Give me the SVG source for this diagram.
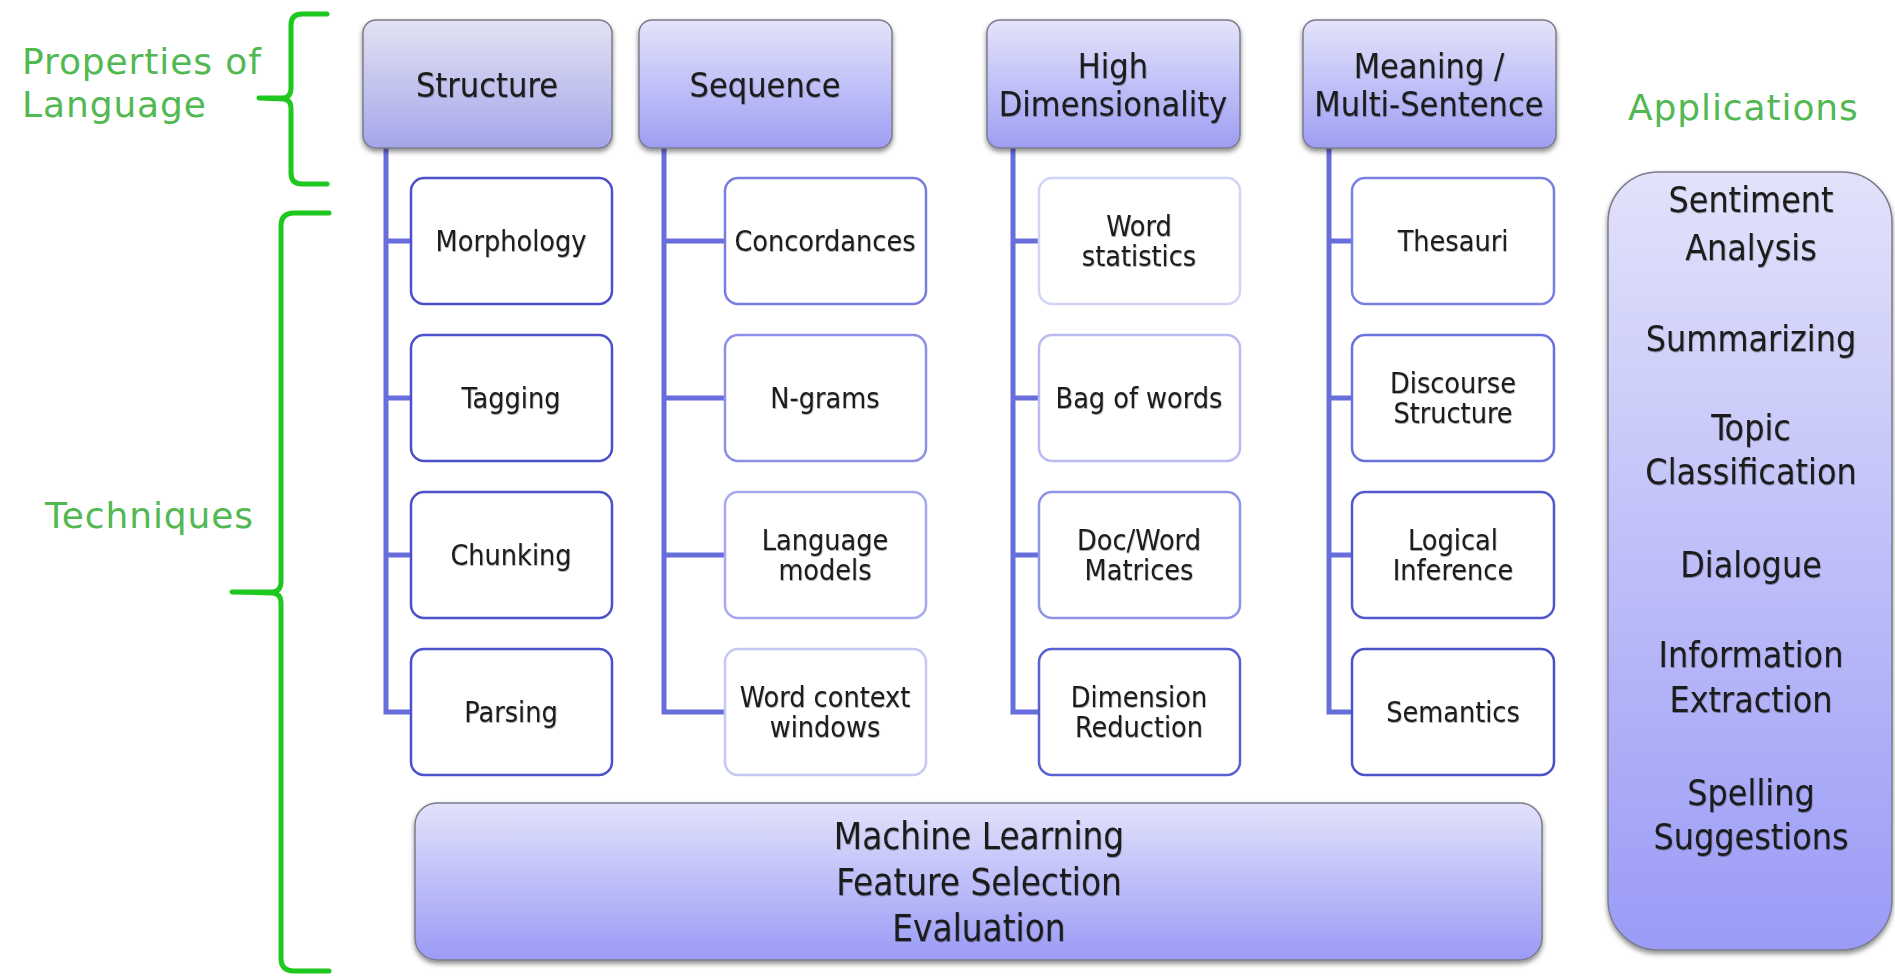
<svg xmlns="http://www.w3.org/2000/svg" width="1895" height="976" viewBox="0 0 1895 976">
  <defs>
    <linearGradient id="gradHead" x1="0" y1="0" x2="0" y2="1">
      <stop offset="0" stop-color="#e4e4fb"/>
      <stop offset="1" stop-color="#9d9ef3"/>
    </linearGradient>
    <linearGradient id="gradHeadGrey" x1="0" y1="0" x2="0" y2="1">
      <stop offset="0" stop-color="#e2e2f3"/>
      <stop offset="1" stop-color="#a5a6ea"/>
    </linearGradient>
    <linearGradient id="gradPanel" x1="0" y1="0" x2="0" y2="1">
      <stop offset="0" stop-color="#e2e2fb"/>
      <stop offset="1" stop-color="#9a9bf6"/>
    </linearGradient>
    <filter id="shadow" x="-10%" y="-10%" width="120%" height="130%">
      <feDropShadow dx="0" dy="3" stdDeviation="2.5" flood-color="#000" flood-opacity="0.45"/>
    </filter>
    <filter id="textShadow" x="-5%" y="-20%" width="110%" height="140%">
      <feDropShadow dx="0.5" dy="1" stdDeviation="0.6" flood-color="#000" flood-opacity="0.35"/>
    </filter>
  </defs>
  <style>
    .label { font-family: "DejaVu Sans", Verdana, sans-serif; font-size: 36px; letter-spacing: 0.9px; fill: #52b852; }
    .brace { fill: none; stroke: #1fc81f; stroke-width: 5; stroke-linecap: round; stroke-linejoin: round; }
    .head { stroke: #7c7c8c; stroke-width: 1.5; filter: url(#shadow); }
    .child { fill: #ffffff; stroke-width: 2.5; }
    .panel { fill: url(#gradPanel); stroke: #7c7c8c; stroke-width: 1.5; filter: url(#shadow); }
    .tree { fill: none; stroke: #686ddc; stroke-width: 5; stroke-linejoin: miter; }
    text.node { font-family: "DejaVu Sans Condensed", "DejaVu Sans", sans-serif; fill: #1c1c1c; text-anchor: middle; filter: url(#textShadow); }
    .h { font-size: 34px; }
    .c { font-size: 28.5px; }
    .a { font-size: 35.5px; }
    .m { font-size: 36.5px; }
  </style>

  <rect x="0" y="0" width="1895" height="976" fill="#ffffff"/>

  <!-- Section labels and braces -->
  <g id="label-properties">
    <text class="label" x="22" y="74">Properties of</text>
    <text class="label" x="22" y="117">Language</text>
    <path class="brace" d="M327,14 H302 Q291,14 291,25 V88 Q291,97 284,98 L259,98 L284,99 Q291,100 291,108 V173 Q291,184 302,184 H327"/>
  </g>
  <g id="label-techniques">
    <text class="label" x="45" y="528">Techniques</text>
    <path class="brace" d="M329,213 H294 Q281,213 281,226 V582 Q281,591 273,592 L232,592 L273,593 Q281,594 281,602 V958 Q281,971 294,971 H329"/>
  </g>
  <g id="label-applications">
    <text class="label" x="1628" y="120">Applications</text>
  </g>

  <!-- Tree connectors from each header to its techniques -->
  <g id="connectors">
    <path class="tree" d="M386,148 V712 H411 M386,241 H411 M386,398 H411 M386,555 H411"/>
    <path class="tree" d="M664,148 V712 H725 M664,241 H725 M664,398 H725 M664,555 H725"/>
    <path class="tree" d="M1013,148 V712 H1039 M1013,241 H1039 M1013,398 H1039 M1013,555 H1039"/>
    <path class="tree" d="M1329,148 V712 H1352 M1329,241 H1352 M1329,398 H1352 M1329,555 H1352"/>
  </g>

  <!-- Headers -->
  <g id="head-structure">
    <rect class="head" x="363" y="20" width="249" height="128" rx="13" fill="url(#gradHeadGrey)"/>
    <text class="node h" x="487" y="97">Structure</text>
  </g>
  <g id="head-sequence">
    <rect class="head" x="639" y="20" width="253" height="128" rx="13" fill="url(#gradHead)"/>
    <text class="node h" x="765" y="97">Sequence</text>
  </g>
  <g id="head-dimensionality">
    <rect class="head" x="987" y="20" width="253" height="128" rx="13" fill="url(#gradHead)"/>
    <text class="node h" x="1113" y="78">High</text>
    <text class="node h" x="1113" y="116">Dimensionality</text>
  </g>
  <g id="head-meaning">
    <rect class="head" x="1303" y="20" width="253" height="128" rx="13" fill="url(#gradHead)"/>
    <text class="node h" x="1429" y="78">Meaning /</text>
    <text class="node h" x="1429" y="116">Multi-Sentence</text>
  </g>

  <!-- Structure techniques -->
  <g id="morphology">
    <rect class="child" x="411" y="178" width="201" height="126" rx="13" stroke="#4c51c9"/>
    <text class="node c" x="511" y="251">Morphology</text>
  </g>
  <g id="tagging">
    <rect class="child" x="411" y="335" width="201" height="126" rx="13" stroke="#4c51c9"/>
    <text class="node c" x="511" y="408">Tagging</text>
  </g>
  <g id="chunking">
    <rect class="child" x="411" y="492" width="201" height="126" rx="13" stroke="#4c51c9"/>
    <text class="node c" x="511" y="565">Chunking</text>
  </g>
  <g id="parsing">
    <rect class="child" x="411" y="649" width="201" height="126" rx="13" stroke="#4c51c9"/>
    <text class="node c" x="511" y="722">Parsing</text>
  </g>

  <!-- Sequence techniques -->
  <g id="concordances">
    <rect class="child" x="725" y="178" width="201" height="126" rx="13" stroke="#787de0"/>
    <text class="node c" x="825" y="251">Concordances</text>
  </g>
  <g id="ngrams">
    <rect class="child" x="725" y="335" width="201" height="126" rx="13" stroke="#8c90e6"/>
    <text class="node c" x="825" y="408">N-grams</text>
  </g>
  <g id="language-models">
    <rect class="child" x="725" y="492" width="201" height="126" rx="13" stroke="#a6a9ee"/>
    <text class="node c" x="825" y="550">Language</text>
    <text class="node c" x="825" y="580">models</text>
  </g>
  <g id="word-context">
    <rect class="child" x="725" y="649" width="201" height="126" rx="13" stroke="#c6c8f4"/>
    <text class="node c" x="825" y="707">Word context</text>
    <text class="node c" x="825" y="737">windows</text>
  </g>

  <!-- Dimensionality techniques -->
  <g id="word-statistics">
    <rect class="child" x="1039" y="178" width="201" height="126" rx="13" stroke="#d2d4f7"/>
    <text class="node c" x="1139" y="236">Word</text>
    <text class="node c" x="1139" y="266">statistics</text>
  </g>
  <g id="bag-of-words">
    <rect class="child" x="1039" y="335" width="201" height="126" rx="13" stroke="#b9bbf2"/>
    <text class="node c" x="1139" y="408">Bag of words</text>
  </g>
  <g id="doc-word">
    <rect class="child" x="1039" y="492" width="201" height="126" rx="13" stroke="#9094e8"/>
    <text class="node c" x="1139" y="550">Doc/Word</text>
    <text class="node c" x="1139" y="580">Matrices</text>
  </g>
  <g id="dimension-reduction">
    <rect class="child" x="1039" y="649" width="201" height="126" rx="13" stroke="#5a60d2"/>
    <text class="node c" x="1139" y="707">Dimension</text>
    <text class="node c" x="1139" y="737">Reduction</text>
  </g>

  <!-- Meaning techniques -->
  <g id="thesauri">
    <rect class="child" x="1352" y="178" width="202" height="126" rx="13" stroke="#7a7fe2"/>
    <text class="node c" x="1453" y="251">Thesauri</text>
  </g>
  <g id="discourse">
    <rect class="child" x="1352" y="335" width="202" height="126" rx="13" stroke="#6a70dc"/>
    <text class="node c" x="1453" y="393">Discourse</text>
    <text class="node c" x="1453" y="423">Structure</text>
  </g>
  <g id="logical-inference">
    <rect class="child" x="1352" y="492" width="202" height="126" rx="13" stroke="#5358cd"/>
    <text class="node c" x="1453" y="550">Logical</text>
    <text class="node c" x="1453" y="580">Inference</text>
  </g>
  <g id="semantics">
    <rect class="child" x="1352" y="649" width="202" height="126" rx="13" stroke="#4c51c9"/>
    <text class="node c" x="1453" y="722">Semantics</text>
  </g>

  <!-- Shared foundation -->
  <g id="machine-learning">
    <rect class="panel" x="415" y="803" width="1127" height="157" rx="22"/>
    <text class="node m" x="979" y="849">Machine Learning</text>
    <text class="node m" x="979" y="895">Feature Selection</text>
    <text class="node m" x="979" y="941">Evaluation</text>
  </g>

  <!-- Applications list -->
  <g id="applications">
    <rect class="panel" x="1608" y="172" width="284" height="778" rx="50"/>
    <text class="node a" x="1751" y="212">Sentiment</text>
    <text class="node a" x="1751" y="260">Analysis</text>
    <text class="node a" x="1751" y="351">Summarizing</text>
    <text class="node a" x="1751" y="440">Topic</text>
    <text class="node a" x="1751" y="484">Classification</text>
    <text class="node a" x="1751" y="577">Dialogue</text>
    <text class="node a" x="1751" y="667">Information</text>
    <text class="node a" x="1751" y="712">Extraction</text>
    <text class="node a" x="1751" y="805">Spelling</text>
    <text class="node a" x="1751" y="849">Suggestions</text>
  </g>
</svg>
